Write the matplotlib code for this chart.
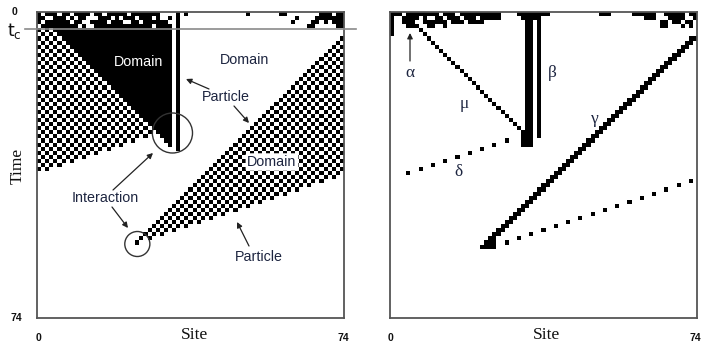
import numpy as np
import matplotlib
matplotlib.use("Agg")
import matplotlib.pyplot as plt
from matplotlib.patches import Circle, FancyArrowPatch

W, H = 703, 344
N = 75          # lattice sites and time steps shown (0..74)
T_C = 4         # end of the initial transient

# ---- raw space-time diagram -------------------------------------------
# transient rows t = 0..3 (1 = black cell)
raw_rows = [
    "10111" "01101" "11101" "10111" "11011" "11111" "00001" "01000" "00000" "00000" "01000" "00001" "10000" "00001" "11011",
    "11001" "11010" "11000" "11101" "01110" "11101" "00101" "00000" "00000" "00000" "00000" "00000" "00010" "00011" "11111",
    "10111" "11101" "10011" "11011" "10011" "01111" "11001" "00000" "00000" "00000" "00000" "00000" "00100" "00110" "10111",
    "01111" "11111" "01001" "11111" "11111" "11101" "11101" "00000" "00000" "00000" "00000" "00000" "00000" "01100" "00011",
]
# boundary lines: site = intercept + velocity * t
raw_mu = (-1, 1)          # checkerboard | black domain wall
raw_gamma = (79, -1)      # left wall of the right checkerboard
raw_delta = (117, -3)     # lower wall of the checkerboards (periodic)
raw_black_right = 32      # last black-domain site
raw_beta_cols = (33, 34)  # white / black columns of the stationary particle
raw_beta_end = 33
raw_meet_t = 32           # black domain closes
raw_delta_start = 30
raw_gamma_start = 5

# ---- filtered diagram (particles only) -----------------------------------
filt_rows = [
    "11101" "11111" "11011" "10111" "11111" "11000" "01111" "11110" "00000" "00000" "01110" "00001" "11111" "00111" "11011",
    "10011" "11010" "01101" "11011" "10111" "11000" "00111" "11000" "00000" "00000" "00000" "00000" "00111" "00011" "11001",
    "10011" "10011" "11110" "11101" "11100" "00000" "00011" "01000" "00000" "00000" "00000" "00000" "00000" "01101" "10110",
    "10001" "11001" "10010" "00000" "00000" "00000" "00011" "01000" "00000" "00000" "00000" "00000" "00000" "01100" "01010",
]
filt_mu = (3, 1, 3, 29)            # intercept, velocity, first t, last t
filt_beta_cols = [33, 34, 36]
filt_beta_end = [32, 32, 30]
filt_gamma = (79, -1, 6, 57)       # two cells wide
filt_delta = (121, -3, 31, 56)     # one cell per step, periodic
filt_delta_gap = [40]              # step where the particle crosses the edge
filt_extra = [(0, 4), (0, 5), (5, 3), (6, 3),                  # alpha / edge
              (32, 30), (32, 31), (33, 31), (34, 31), (32, 32), (33, 32), (34, 32),
              (24, 56), (25, 56), (24, 57), (25, 57)]


def build_raw():
    g = np.zeros((N, N), int)
    for t, row in enumerate(raw_rows):
        g[t] = [int(c) for c in row]
    for t in range(T_C, N):
        mu = raw_mu[0] + raw_mu[1] * t
        dl = raw_delta[0] + raw_delta[1] * t
        gm = raw_gamma[0] + raw_gamma[1] * t
        right_lim = dl + N if dl < 0 else N - 1
        for s in range(N):
            chk = (s + t + 1) % 2
            v = 0
            if t <= raw_meet_t:
                if s <= min(mu, raw_black_right) and (t < raw_delta_start or s <= dl):
                    v = chk
                elif mu < s <= raw_black_right:
                    v = 1
            elif s <= dl:
                v = chk
            if t <= raw_beta_end:
                if s == raw_beta_cols[0]:
                    v = 0
                if s == raw_beta_cols[1]:
                    v = 1
            if t >= raw_gamma_start and s >= gm and s <= right_lim:
                v = chk
            g[t, s] = v
    return g


def build_filtered():
    g = np.zeros((N, N), int)
    for t, row in enumerate(filt_rows):
        g[t] = [int(c) for c in row]
    a, v, t0, t1 = filt_mu
    for t in range(t0, t1 + 1):
        g[t, a + v * t] = 1
    for col, te in zip(filt_beta_cols, filt_beta_end):
        g[2:te + 1, col] = 1
    a, v, t0, t1 = filt_gamma
    for t in range(t0, t1 + 1):
        for w in range(2):
            s = a + v * t + w
            if 0 <= s < N:
                g[t, s] = 1
    a, v, t0, t1 = filt_delta
    for t in range(t0, t1 + 1):
        if t not in filt_delta_gap:
            g[t, (a + v * t) % N] = 1
    for s, t in filt_extra:
        g[t, s] = 1
    return g


fig = plt.figure(figsize=(W / 100, H / 100), dpi=100)
fig.patch.set_facecolor("white")


def fxy(x, y):
    return (x / W, 1 - y / H)


ax_l = fig.add_axes([37 / W, 1 - 318 / H, 307 / W, 306 / H])
ax_r = fig.add_axes([390 / W, 1 - 318 / H, 307 / W, 306 / H])

for ax, grid in ((ax_l, build_raw()), (ax_r, build_filtered())):
    ax.imshow(grid, cmap="gray_r", vmin=0, vmax=1, interpolation="nearest",
              extent=(-0.5, N - 0.5, N - 0.5, -0.5), aspect="auto")
    ax.set_xticks([])
    ax.set_yticks([])
    for sp in ax.spines.values():
        sp.set_color("#555555")
        sp.set_linewidth(1.3)

TXT = "#1d2540"
sans = "Liberation Sans"
serif = "Liberation Serif"
LBL = 10.3

# tick labels and axis titles
for x, s in ((38, "0"), (343, "74"), (391, "0"), (695, "74")):
    fig.text(*fxy(x, 338), s, ha="center", va="center", fontsize=7.5,
             fontweight="bold", family=sans, color="#111111")
fig.text(*fxy(15, 12), "0", ha="center", va="center", fontsize=7.5,
         fontweight="bold", family=sans, color="#111111")
fig.text(*fxy(16, 318), "74", ha="center", va="center", fontsize=7.5,
         fontweight="bold", family=sans, color="#111111")
fig.text(*fxy(14, 31), r"$\mathrm{t_c}$", ha="center", va="center", fontsize=12.5,
         color="#111111")
fig.text(*fxy(195, 335), "Site", ha="center", va="center", fontsize=12.5,
         family=serif, color="#111111")
fig.text(*fxy(547, 335), "Site", ha="center", va="center", fontsize=12.5,
         family=serif, color="#111111")
fig.text(*fxy(18, 166), "Time", ha="center", va="center", fontsize=12.5,
         family=serif, rotation=90, color="#111111")

# t_c marker line
fig.add_artist(plt.Line2D([25 / W, 356 / W], [1 - 29 / H, 1 - 29 / H],
                          color="#8a8a8a", lw=1.2))

# left-panel annotations
fig.text(*fxy(139, 62), "Domain", ha="center", va="center", fontsize=LBL,
         family=sans, color="white")
fig.text(*fxy(245, 60), "Domain", ha="center", va="center", fontsize=LBL,
         family=sans, color=TXT)
fig.text(*fxy(226, 97), "Particle", ha="center", va="center", fontsize=LBL,
         family=sans, color=TXT)
fig.text(*fxy(272, 162), "Domain", ha="center", va="center", fontsize=LBL,
         family=sans, color=TXT,
         bbox=dict(boxstyle="round,pad=0.12", fc="white", ec="none"))
fig.text(*fxy(105, 198), "Interaction", ha="center", va="center", fontsize=LBL,
         family=sans, color=TXT)
fig.text(*fxy(259, 257), "Particle", ha="center", va="center", fontsize=LBL,
         family=sans, color=TXT)


def arrow(p0, p1):
    fig.add_artist(FancyArrowPatch(fxy(*p0), fxy(*p1), transform=fig.transFigure,
                                   arrowstyle="-|>", mutation_scale=8,
                                   color="#222222", lw=0.9, shrinkA=0, shrinkB=0))


arrow((209, 89), (186, 79))
arrow((234, 106), (249, 123))
arrow((113, 190), (153, 153))
arrow((112, 207), (128, 228))
arrow((249, 246), (237, 222))
arrow((410, 61), (410, 33))

for (cx, cy, r) in ((172, 133, 20), (137, 244, 12.5)):
    ax_l.add_patch(Circle(((cx - 37) / 306 * N - 0.5, (cy - 12) / 306 * N - 0.5),
                          r / 306 * N, fill=False, ec="#333333", lw=1.0,
                          clip_on=False))

# right-panel particle labels
for x, y, s in ((410, 73, "α"), (552, 73, "β"), (464, 104, "μ"),
                (595, 119, "γ"), (458, 172, "δ")):
    fig.text(*fxy(x, y), s, ha="center", va="center", fontsize=12.5,
             family=serif, color=TXT)

fig.savefig("out.png", dpi=100, facecolor="white")
